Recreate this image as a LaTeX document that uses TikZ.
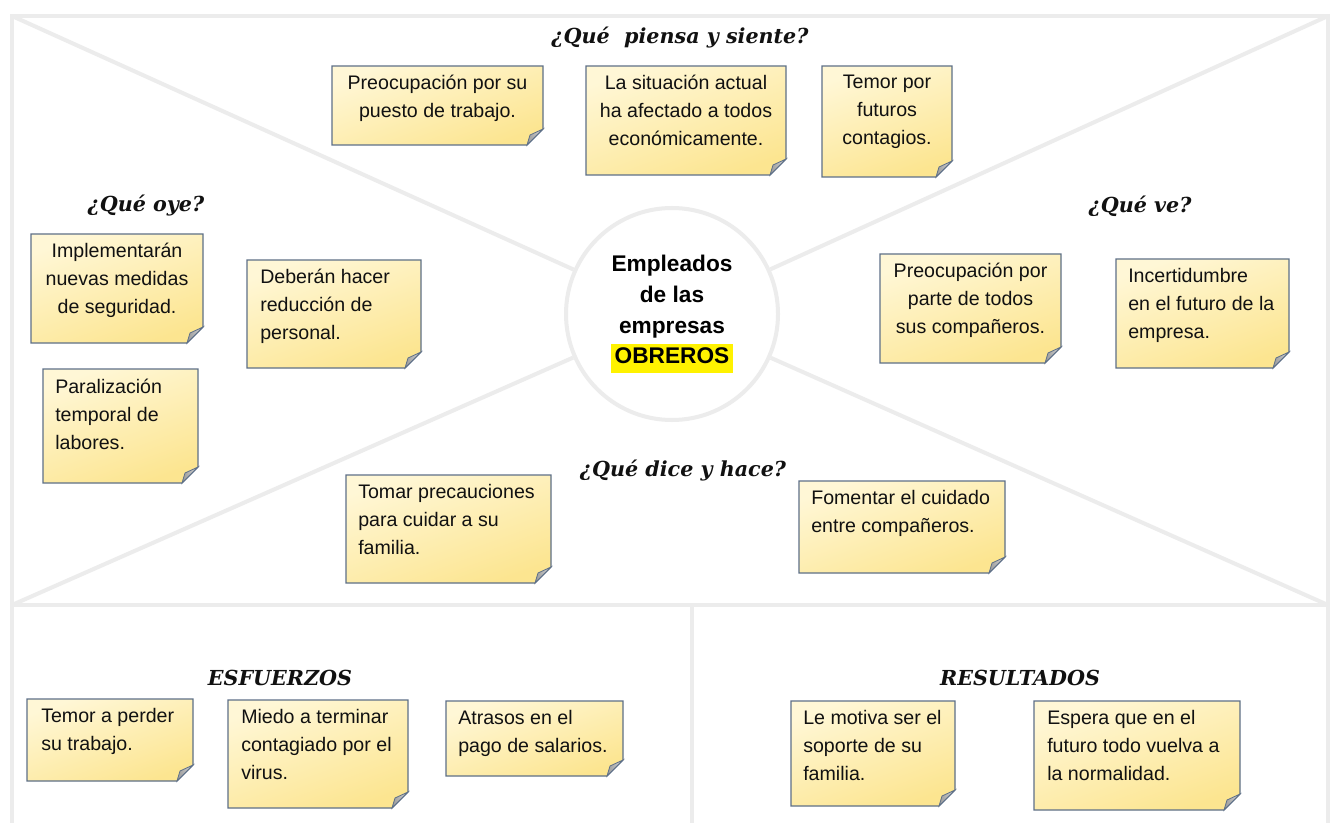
\documentclass[tikz,border=0pt]{standalone}
\usepackage{fontspec}
\setmainfont{Liberation Sans}
\newfontfamily\headfont{DejaVu Serif}
\usetikzlibrary{shadings}
\definecolor{framecol}{HTML}{ECECEC}
\definecolor{notetop}{HTML}{FFF7D6}
\definecolor{notebot}{HTML}{FCE590}
\definecolor{noteedge}{HTML}{5E7088}
\definecolor{foldA}{HTML}{9A9A9A}
\definecolor{foldB}{HTML}{D8D8D8}
\definecolor{txt}{HTML}{111111}
\tikzset{
  frameline/.style={draw=framecol, line width=3pt},
  notebody/.style={top color=notetop, bottom color=notebot, shading angle=20, draw=noteedge, line width=0.8pt},
  foldpart/.style={left color=foldA, right color=foldB, draw=noteedge, line width=0.6pt},
  notetxt/.style={font=\fontsize{14.7}{21}\selectfont, text=txt, inner sep=0pt},
  heading/.style={font=\headfont\bfseries\itshape\fontsize{15.5}{18}\selectfont, text=txt, inner sep=0pt},
  centertxt/.style={font=\bfseries\fontsize{17}{23}\selectfont, text=black, align=center, circle, draw=framecol, line width=3pt, minimum size=212*0.75pt, inner sep=0pt}
}
% x1, y1, x2, y2
\newcommand{\stickyshape}[4]{%
  \path[notebody] (#1,#2) -- (#3,#2) -- (#3,#4-16) -- (#3-16,#4) -- (#1,#4) -- cycle;
  \path[foldpart] (#3,#4-16) -- (#3-16,#4) -- (#3-13,#4-10) -- cycle;
}
\begin{document}
\begin{tikzpicture}[x=0.75pt,y=-0.75pt]
\useasboundingbox (0,0) rectangle (1333,823);
\fill[white] (0,0) rectangle (1333,823);
% frame
\coordinate (tl) at (12,16);
\coordinate (tr) at (1328,16);
\coordinate (ml) at (12,605);
\coordinate (mr) at (1328,605);
\coordinate (bl) at (12,823);
\coordinate (br) at (1328,823);
\coordinate (mt) at (692,605);
\coordinate (mb) at (692,823);
\draw[frameline] (bl) -- (tl) -- (tr) -- (br);
\draw[frameline] (ml) -- (mr);
\draw[frameline] (mt) -- (mb);
% centre
\node[centertxt] (center) at (672,314) {Empleados\\de las\\empresas\\\colorbox{yellow}{\vphantom{Ep}OBREROS}};
\draw[frameline] (tl) -- (center);
\draw[frameline] (tr) -- (center);
\draw[frameline] (ml) -- (center);
\draw[frameline] (mr) -- (center);
% headings
\node[heading] (h1) at (680,38) {¿Qué\ \ piensa y siente?};
\node[heading] (h2) at (146,206) {¿Qué oye?};
\node[heading] (h3) at (1140,206) {¿Qué ve?};
\node[heading] (h4) at (683,471) {¿Qué dice y hace?};
\node[heading] (h5) at (280,678) {ESFUERZOS};
\node[heading] (h6) at (1020,678) {RESULTADOS};
% notes: top
\stickyshape{332}{66}{543}{145}
\node[notetxt, align=center, anchor=north] (n1) at (437.5,75) {Preocupación por su\\puesto de trabajo.};
\stickyshape{586}{66}{786}{175}
\node[notetxt, align=center, anchor=north] (n2) at (686,75) {La situación actual\\ha afectado a todos\\económicamente.};
\stickyshape{822}{66}{952}{177}
\node[notetxt, align=center, anchor=north] (n3) at (887,75) {Temor por\\futuros\\contagios.};
% left
\stickyshape{31}{234}{203}{343}
\node[notetxt, align=center, anchor=north] (n4) at (117,243) {Implementarán\\nuevas medidas\\de seguridad.};
\stickyshape{247}{260}{421}{368}
\node[notetxt, align=left, anchor=north west] (n5) at (260,269) {Deberán hacer\\reducción de\\personal.};
\stickyshape{43}{369}{198}{483}
\node[notetxt, align=left, anchor=north west] (n6) at (55,379) {Paralización\\temporal de\\labores.};
% right
\stickyshape{880}{254}{1061}{363}
\node[notetxt, align=center, anchor=north] (n7) at (970.5,263) {Preocupación por\\parte de todos\\sus compañeros.};
\stickyshape{1116}{259}{1289}{368}
\node[notetxt, align=left, anchor=north west] (n8) at (1128,268) {Incertidumbre\\en el futuro de la\\empresa.};
% bottom of upper area
\stickyshape{346}{475}{551}{583}
\node[notetxt, align=left, anchor=north west] (n9) at (358,484) {Tomar precauciones\\para cuidar a su\\familia.};
\stickyshape{799}{481}{1005}{573}
\node[notetxt, align=left, anchor=north west] (n10) at (811,490) {Fomentar el cuidado\\entre compañeros.};
% esfuerzos
\stickyshape{27}{699}{193}{781}
\node[notetxt, align=left, anchor=north west] (n11) at (41,708) {Temor a perder\\su trabajo.};
\stickyshape{228}{700}{408}{808}
\node[notetxt, align=left, anchor=north west] (n12) at (241,709) {Miedo a terminar\\contagiado por el\\virus.};
\stickyshape{446}{701}{623}{776}
\node[notetxt, align=left, anchor=north west] (n13) at (458,710) {Atrasos en el\\pago de salarios.};
% resultados
\stickyshape{791}{701}{955}{806}
\node[notetxt, align=left, anchor=north west] (n14) at (803,710) {Le motiva ser el\\soporte de su\\familia.};
\stickyshape{1034}{701}{1240}{810}
\node[notetxt, align=left, anchor=north west] (n15) at (1047,710) {Espera que en el\\futuro todo vuelva a\\la normalidad.};
\end{tikzpicture}
\end{document}
